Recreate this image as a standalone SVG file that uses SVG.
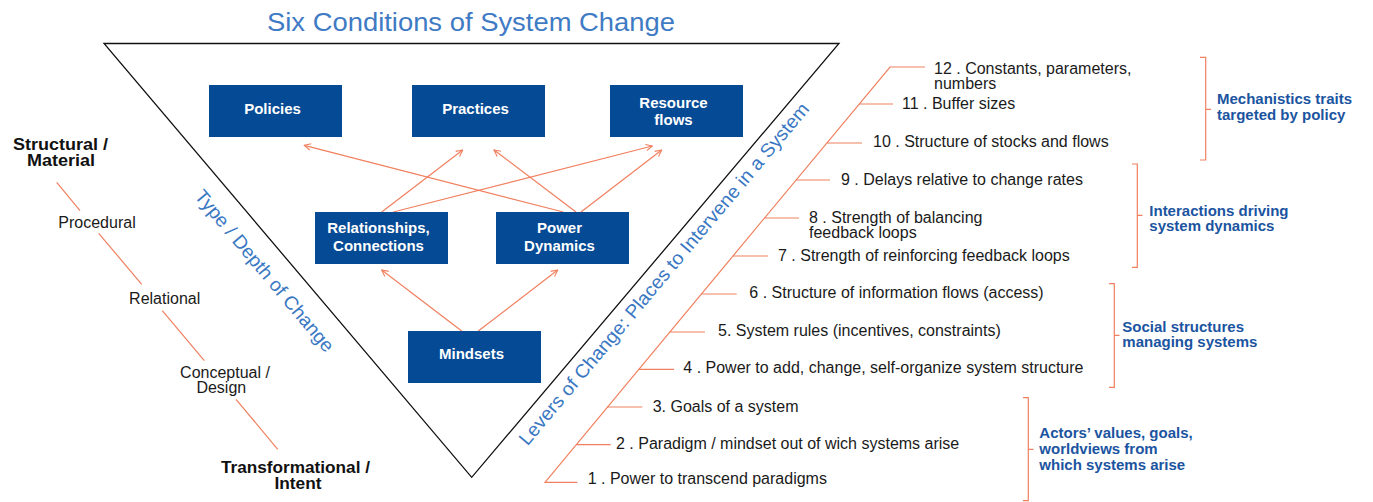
<svg xmlns="http://www.w3.org/2000/svg" width="1373" height="502" viewBox="0 0 1373 502">
<defs>
<style>
.box{fill:#054a94}
.bt{font-family:"Liberation Sans",Arial,sans-serif;font-weight:bold;font-size:15px;fill:#ffffff;text-anchor:middle}
.lv{font-family:"Liberation Sans",Arial,sans-serif;font-size:16px;fill:#1a1a1a}
.side{font-family:"Liberation Sans",Arial,sans-serif;font-size:16px;fill:#1a1a1a;text-anchor:middle}
.sideb{font-family:"Liberation Sans",Arial,sans-serif;font-size:16px;font-weight:bold;fill:#111111;text-anchor:middle}
.grp{font-family:"Liberation Sans",Arial,sans-serif;font-size:15px;font-weight:bold;fill:#1b54a0}
.rot{font-family:"Liberation Sans",Arial,sans-serif;font-size:19px;fill:#3a78c3}
.or{stroke:#f0805f;stroke-width:1.2;fill:none}
.arr{stroke:#f0805f;stroke-width:1.2;fill:none;marker-end:url(#ah)}
</style>
<marker id="ah" viewBox="0 0 10 10" refX="9" refY="5" markerWidth="8" markerHeight="8" markerUnits="userSpaceOnUse" orient="auto">
<path d="M1,1 L9,5 L1,9" fill="none" stroke="#f0805f" stroke-width="1.4"/>
</marker>
</defs>
<rect width="1373" height="502" fill="#ffffff"/>

<g id="title">
<text x="471" y="30.5" font-family="'Liberation Sans',Arial,sans-serif" font-size="25" fill="#3f7bc4" text-anchor="middle" textLength="408" lengthAdjust="spacingAndGlyphs">Six Conditions of System Change</text>
</g>

<g id="triangle">
<polygon points="104,43.5 839,43.5 471.7,477.3" fill="none" stroke="#111111" stroke-width="1.3"/>
</g>

<g id="axis-labels">
<text class="rot" transform="translate(259.6,275.1) rotate(50)" text-anchor="middle" textLength="205" lengthAdjust="spacingAndGlyphs">Type / Depth of Change</text>
<text class="rot" transform="translate(527.5,446.5) rotate(-50)" textLength="440" lengthAdjust="spacingAndGlyphs">Levers of Change: Places to Intervene in a System</text>
</g>

<g id="connectors">
<line class="arr" x1="381.7" y1="212" x2="462.7" y2="150"/>
<line class="arr" x1="393.3" y1="212" x2="652.3" y2="146"/>
<line class="arr" x1="563.3" y1="212" x2="304.3" y2="145.3"/>
<line class="arr" x1="576" y1="212" x2="494" y2="150"/>
<line class="arr" x1="581" y1="212" x2="661.7" y2="150"/>
<line class="arr" x1="461.7" y1="331" x2="381.7" y2="270"/>
<line class="arr" x1="478.3" y1="331" x2="557.7" y2="270"/>
</g>

<g id="policies"><rect class="box" x="209" y="85" width="133" height="52"/><text class="bt" x="272.5" y="114">Policies</text></g>
<g id="practices"><rect class="box" x="412" y="85" width="133" height="52"/><text class="bt" x="475.5" y="114">Practices</text></g>
<g id="resource-flows"><rect class="box" x="610" y="85" width="133" height="52"/><text class="bt" x="673.5" y="107.7">Resource<tspan x="673.5" y="125.3">flows</tspan></text></g>
<g id="relationships"><rect class="box" x="315" y="212" width="133" height="52"/><text class="bt" x="378.5" y="233.3">Relationships,<tspan x="378.5" y="251">Connections</tspan></text></g>
<g id="power-dynamics"><rect class="box" x="496" y="212" width="133" height="52"/><text class="bt" x="559.5" y="233.3">Power<tspan x="559.5" y="251">Dynamics</tspan></text></g>
<g id="mindsets"><rect class="box" x="408" y="331" width="133" height="52"/><text class="bt" x="471.5" y="359.3">Mindsets</text></g>

<g id="depth-scale">
<text class="sideb" x="60.5" y="149.5" textLength="95" lengthAdjust="spacingAndGlyphs">Structural /</text>
<text class="sideb" x="61" y="166" textLength="68" lengthAdjust="spacingAndGlyphs">Material</text>
<line class="or" x1="56.7" y1="182.3" x2="80" y2="210.7"/>
<text class="side" x="97" y="227.7">Procedural</text>
<line class="or" x1="98.7" y1="233.3" x2="141.7" y2="284.3"/>
<text class="side" x="164.7" y="304.3">Relational</text>
<line class="or" x1="162.3" y1="310.7" x2="204.3" y2="360.7"/>
<text class="side" x="225" y="377.7">Conceptual /<tspan x="221.3" y="393.3">Design</tspan></text>
<line class="or" x1="236" y1="399.3" x2="277.7" y2="449.3"/>
<text class="sideb" x="295.5" y="472.5" textLength="149" lengthAdjust="spacingAndGlyphs">Transformational /</text>
<text class="sideb" x="298" y="489" textLength="47" lengthAdjust="spacingAndGlyphs">Intent</text>
</g>

<g id="levers">
<path class="or" d="M925,67 L890,67 L545,482.3 L577.3,482.3"/>
<line class="or" x1="859" y1="104" x2="893" y2="104"/>
<line class="or" x1="826.7" y1="143" x2="862" y2="143"/>
<line class="or" x1="796" y1="180" x2="830" y2="180"/>
<line class="or" x1="764.4" y1="218" x2="799" y2="218"/>
<line class="or" x1="732.8" y1="256" x2="768" y2="256"/>
<line class="or" x1="701.2" y1="294" x2="736.7" y2="294"/>
<line class="or" x1="669.6" y1="332" x2="705" y2="332"/>
<line class="or" x1="638.6" y1="369.3" x2="674" y2="369.3"/>
<line class="or" x1="607" y1="407" x2="642.3" y2="407"/>
<line class="or" x1="576.6" y1="444.7" x2="610.7" y2="444.7"/>
<text class="lv" x="934" y="74">12 . Constants, parameters,<tspan x="934" y="89">numbers</tspan></text>
<text class="lv" x="902" y="109">11 . Buffer sizes</text>
<text class="lv" x="873" y="147">10 .  Structure of stocks and flows</text>
<text class="lv" x="841" y="185">9 . Delays relative to change rates</text>
<text class="lv" x="809" y="223">8 . Strength of balancing<tspan x="809" y="238">feedback loops</tspan></text>
<text class="lv" x="778" y="261">7 . Strength of reinforcing feedback loops</text>
<text class="lv" x="749.3" y="298">6 . Structure of information flows (access)</text>
<text class="lv" x="718" y="336">5. System rules (incentives, constraints)</text>
<text class="lv" x="683.3" y="373.3">4 . Power to add, change, self-organize system structure</text>
<text class="lv" x="652.7" y="411.7">3. Goals of a system</text>
<text class="lv" x="616" y="449.3">2 . Paradigm / mindset out of wich systems arise</text>
<text class="lv" x="587.7" y="484.3">1 . Power to transcend paradigms</text>
</g>

<g id="group-mechanistics">
<path class="or" d="M1200,57.3 H1205.7 V160 H1200 M1205.7,109.3 H1211"/>
<text class="grp" x="1217" y="104.3">Mechanistics traits<tspan x="1217" y="120">targeted by policy</tspan></text>
</g>
<g id="group-interactions">
<path class="or" d="M1132,164 H1137.3 V267.3 H1132 M1137.3,215.3 H1142.5"/>
<text class="grp" x="1149.3" y="215.7">Interactions driving<tspan x="1149.3" y="231">system dynamics</tspan></text>
</g>
<g id="group-social">
<path class="or" d="M1109,283.7 H1114.3 V387.3 H1109 M1114.3,335.3 H1119.5"/>
<text class="grp" x="1122.3" y="332">Social structures<tspan x="1122.3" y="347.3">managing systems</tspan></text>
</g>
<g id="group-actors">
<path class="or" d="M1023,397.7 H1028.3 V500.7 H1023 M1028.3,449.3 H1033.5"/>
<text class="grp" x="1039.3" y="438.3">Actors’ values, goals,<tspan x="1039.3" y="454.3">worldviews from</tspan><tspan x="1039.3" y="470">which systems arise</tspan></text>
</g>
</svg>
